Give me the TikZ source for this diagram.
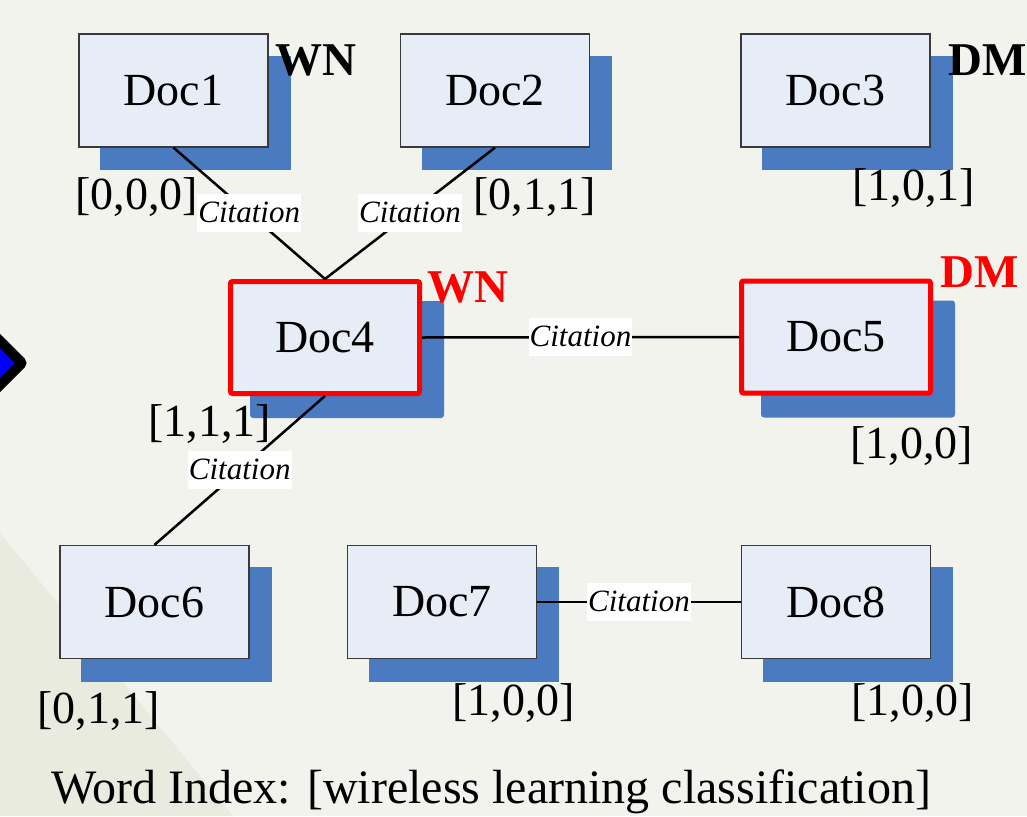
\documentclass[tikz,border=0pt]{standalone}
\usepackage{fontspec}
\setmainfont{Liberation Serif}
\pgfdeclarelayer{bg}
\pgfsetlayers{bg,main}
\definecolor{bgc}{HTML}{F2F3EC}
\definecolor{bandc}{HTML}{E9EBDF}
\definecolor{docfill}{HTML}{E6EDF7}
\definecolor{shadowc}{HTML}{4A7AC0}
\definecolor{docborder}{HTML}{3A3A3A}
\begin{document}
\begin{tikzpicture}[x=1pt,y=-1pt,
  docbox/.style={draw=docborder, line width=1.3pt, fill=docfill, minimum width=189pt, minimum height=113pt, inner sep=0pt, font=\fontsize{46}{50}\selectfont},
  hotbox/.style={docbox, draw=red, line width=5pt, rounded corners=2pt, minimum height=112pt},
  shadowbox/.style={fill=shadowc},
  link/.style={line width=2.5pt, black},
  cit/.style={fill=white, font=\fontsize{31}{33}\selectfont\itshape, inner xsep=1pt, inner ysep=0pt, text height=28pt, text depth=10pt},
  vec/.style={anchor=base west, inner sep=0pt, font=\fontsize{46}{50}\selectfont},
  tag/.style={anchor=base west, inner sep=0pt, font=\fontsize{47}{50}\selectfont\bfseries},
  hottag/.style={tag, text=red}
]
\useasboundingbox (0,0) rectangle (1027,816);
\begin{pgfonlayer}{bg}
  \begin{scope}
    \clip (0,0) rectangle (1027,816);
    \fill[bgc] (0,0) rectangle (1027,816);
    \fill[bandc] (0,533) -- (233,816) -- (0,816) -- cycle;
    \draw[line width=10pt, fill=blue, rounded corners=2pt] (22,363) -- (-5,336) -- (-32,363) -- (-5,390) -- cycle;
  \end{scope}
\end{pgfonlayer}

% documents
\node[docbox] (d1) at (173.5,90.5) {Doc1};
\node[docbox] (d2) at (495,90.5) {Doc2};
\node[docbox] (d3) at (835.5,90.5) {Doc3};
\node[hotbox] (d4) at (325,337.5) {Doc4};
\node[hotbox] (d5) at (836,337) {Doc5};
\node[docbox] (d6) at (154.5,602) {Doc6};
\node[docbox] (d7) at (442,602) {Doc7};
\node[docbox] (d8) at (836,602) {Doc8};

% shadows
\begin{pgfonlayer}{bg}
  \foreach \n in {d1,d2,d3,d6,d7,d8}
    \fill[shadowbox] ([shift={(22,22.5)}]\n.south west) rectangle ([shift={(22,22.5)}]\n.north east);
  \foreach \n in {d4,d5}
    \fill[shadowbox, rounded corners=3pt] ([shift={(22,22)}]\n.south west) rectangle ([shift={(22,22)}]\n.north east);
\end{pgfonlayer}

% citations
\draw[link] (d1.south) -- node[cit] (c1) {Citation} (d4.north);
\draw[link] (d2.south) -- node[cit] (c2) {Citation} (d4.north);
\draw[link] (d4.east) -- node[cit] (c3) {Citation} (d5.west);
\draw[link] (d4.south) -- node[cit] (c4) {Citation} (d6.north);
\draw[link] (d7.east) -- node[cit] (c5) {Citation} (d8.west);

% vectors
\node[vec] (v1) at (75,209) {[0,0,0]};
\node[vec] (v2) at (473,209) {[0,1,1]};
\node[vec] (v3) at (852,200) {[1,0,1]};
\node[vec] (v4) at (148,436) {[1,1,1]};
\node[vec] (v5) at (850,458) {[1,0,0]};
\node[vec] (v6) at (37,723) {[0,1,1]};
\node[vec] (v7) at (452,715) {[1,0,0]};
\node[vec] (v8) at (851,715) {[1,0,0]};

% tags
\node[tag] (t1) at (275,75) {WN};
\node[tag] (t3) at (948,75) {DM};
\node[hottag] (t4) at (427,302) {WN};
\node[hottag] (t5) at (940,287) {DM};

\node[anchor=base west, inner sep=0pt, font=\fontsize{48}{50}\selectfont] (wi) at (51,803) {Word Index: [wireless learning classification]};
\end{tikzpicture}
\end{document}
